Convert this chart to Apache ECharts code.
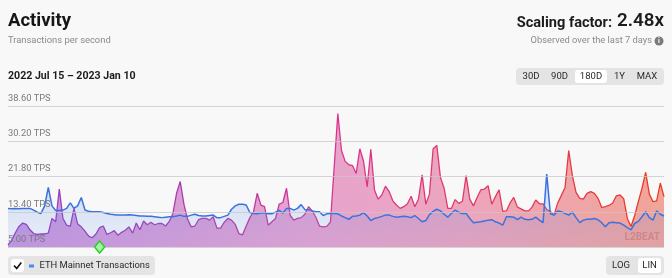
<!DOCTYPE html>
<html><head><meta charset="utf-8">
<script src="https://cdn.jsdelivr.net/npm/echarts@6/dist/echarts.min.js"></script>
<style>html,body{margin:0;padding:0;background:#f8f8f8;}#c{width:672px;height:278px;}</style>
</head><body><div id="c"></div>
<script>
const startDate = '2022-07-15';
const dayCount = 180;
const yTicks = [5.00, 13.40, 21.80, 30.20, 38.60];
const projectTps = [5.5,6.6,8.4,9.9,10.7,10.4,9.1,8.2,8.0,8.1,
 8.1,8.3,11.8,11.0,18.8,11.8,10.2,9.9,14.2,10.5,
 9.8,8.8,7.6,7.2,8.1,9.6,10.0,8.0,8.4,8.9,
 7.8,8.5,9.0,9.8,8.3,10.7,9.1,11.2,10.3,10.9,
 10.3,10.6,10.6,10.0,11.1,13.0,17.8,20.6,15.2,11.6,
 9.8,10.0,11.5,11.8,11.8,11.4,12.2,9.5,9.5,10.9,
 11.8,11.4,10.4,8.2,7.9,10.0,12.0,13.4,17.8,15.0,
 14.6,10.2,11.0,11.8,15.2,15.6,19.0,12.5,11.4,11.8,
 12.0,12.8,14.6,13.6,12.1,10.0,9.8,9.9,11.0,24.0,
 36.8,28.0,25.4,24.6,24.4,22.5,28.4,25.5,19.3,28.3,
 18.6,16.4,17.4,19.5,18.2,16.0,15.0,14.2,14.6,15.3,
 17.1,14.6,16.4,22.2,15.2,17.6,28.4,29.2,21.6,19.0,
 14.2,14.2,16.3,15.4,15.9,22.0,16.4,14.8,16.8,18.6,
 18.8,19.6,15.2,17.0,18.6,13.5,13.6,15.5,16.8,14.5,
 14.1,13.6,13.6,14.5,16.2,15.3,15.3,13.9,13.5,12.6,
 15.5,17.3,19.2,28.0,22.0,18.0,16.6,16.4,17.8,18.2,
 17.8,16.6,14.4,14.6,14.9,15.5,17.2,17.4,16.5,11.8,
 9.9,12.5,15.8,19.0,22.8,17.6,15.8,16.0,20.2,17.0];
const ethTps = [14.2,14.1,14.2,14.1,14.2,14.2,14.2,13.8,13.3,13.0,
 14.8,19.2,14.8,13.7,13.7,13.8,14.2,15.5,14.2,14.8,
 16.8,13.8,13.5,13.4,13.4,13.4,13.2,13.0,12.8,12.7,
 12.6,12.6,12.6,12.7,12.6,12.5,12.4,12.4,12.3,12.3,
 12.2,12.1,12.0,12.1,12.2,12.2,12.4,12.6,12.3,12.3,
 12.6,12.8,12.5,12.4,12.4,12.5,12.6,12.0,12.0,12.3,
 12.6,14.0,14.8,15.2,15.2,15.0,13.2,13.0,12.9,13.1,
 13.1,12.9,12.9,13.3,13.7,13.1,14.2,14.2,13.8,14.2,
 15.1,13.9,13.9,13.6,13.4,13.4,12.5,12.9,13.0,13.0,
 12.9,12.4,12.0,11.6,12.3,12.4,12.6,13.2,12.4,11.3,
 11.8,12.0,12.3,12.6,12.6,12.3,12.1,12.2,12.3,12.2,
 12.0,12.5,11.8,11.0,11.3,12.7,13.5,14.0,13.6,12.8,
 12.1,13.0,13.8,13.3,13.0,13.0,11.8,10.8,10.9,11.0,
 11.2,11.4,11.5,11.0,10.7,10.2,12.2,12.2,12.1,11.5,
 12.1,11.6,11.5,11.6,12.1,11.4,10.8,22.4,12.9,12.6,
 13.6,13.4,13.0,12.6,13.3,12.0,10.8,11.4,11.6,11.6,
 11.8,11.5,10.8,9.8,10.8,10.9,10.8,10.7,10.2,9.6,
 9.1,10.6,11.1,12.2,13.4,12.0,11.4,13.6,12.8,12.4];
const rangeButtons = ['30D','90D','180D','1Y','MAX'];
const selectedRange = '180D';
const scaleButtons = ['LOG','LIN'];
const markerDate = '2022-08-09';

const categories = [];
{
  const d0 = new Date(startDate + 'T00:00:00Z');
  for (let i = 0; i < dayCount; i++) {
    const d = new Date(d0.getTime() + i * 86400000);
    categories.push(d.toISOString().slice(0, 10));
  }
}

const FONT = 'Roboto, "Noto Sans", sans-serif';
const chart = echarts.init(document.getElementById('c'), null, {renderer: 'canvas'});
const G = echarts.graphic;

function txt(x, y, text, size, color, weight, align) {
  return {type: 'text', x: x, y: y, silent: true, z: 100,
    style: {text: text, fontSize: size, fill: color, fontWeight: weight || 'normal',
      fontFamily: FONT, align: align || 'left', verticalAlign: 'middle'}};
}
const rangeX = [531, 559.5, 591, 619.5, 647];
const graphics = [
  txt(8, 21, 'Activity', 18.5, '#161616', 'bold'),
  txt(8, 41, 'Transactions per second', 9.4, '#8a8a8a'),
  txt(8, 76, '2022 Jul 15 \u2013 2023 Jan 10', 10.6, '#1c1c1c', 'bold'),
  txt(612, 23, 'Scaling factor:', 14.6, '#1c1c1c', 'bold', 'right'),
  txt(664, 21, '2.48x', 18.8, '#1c1c1c', 600, 'right'),
  txt(652, 41, 'Observed over the last 7 days', 9.3, '#8a8a8a', 'normal', 'right'),
  {type: 'circle', shape: {cx: 659, cy: 41, r: 4.5}, style: {fill: '#7a7a7a'}, z: 100, silent: true},
  txt(659, 41.5, 'i', 7, '#fff', 'bold', 'center'),
  {type: 'rect', shape: {x: 516, y: 68, width: 148, height: 17, r: 4}, style: {fill: '#e4e4e4'}, z: 99, silent: true},
  {type: 'rect', shape: {x: 575, y: 70, width: 32, height: 13, r: 3}, style: {fill: '#ffffff'}, z: 99, silent: true},
  {type: 'rect', shape: {x: 8, y: 256, width: 147, height: 19, r: 4}, style: {fill: '#e4e4e4'}, z: 99, silent: true},
  {type: 'rect', shape: {x: 11, y: 259, width: 13, height: 13, r: 3}, style: {fill: '#ffffff'}, z: 100, silent: true},
  {type: 'polyline', shape: {points: [[14, 265.5], [16.7, 268.5], [21.3, 262.5]]}, style: {stroke: '#111', lineWidth: 1.6, fill: null}, z: 101, silent: true},
  {type: 'rect', shape: {x: 29, y: 264.5, width: 5, height: 3}, style: {fill: '#4a8ae8'}, z: 100, silent: true},
  txt(39.5, 266, 'ETH Mainnet Transactions', 9.4, '#2a2a2a'),
  {type: 'rect', shape: {x: 606, y: 256, width: 58, height: 19, r: 4}, style: {fill: '#e4e4e4'}, z: 99, silent: true},
  {type: 'rect', shape: {x: 638, y: 258, width: 23, height: 15, r: 3}, style: {fill: '#ffffff'}, z: 99, silent: true},
  txt(621, 266, scaleButtons[0], 9.5, '#2a2a2a', 'normal', 'center'),
  txt(649.5, 266, scaleButtons[1], 9.5, '#2a2a2a', 'normal', 'center'),
  txt(660, 237, 'L2BEAT', 10, 'rgba(160,70,70,0.28)', 'bold', 'right')
];
rangeButtons.forEach((b, i) => graphics.push(txt(rangeX[i], 76.5, b, 9.5, '#2a2a2a', 'normal', 'center')));

chart.setOption({
  backgroundColor: '#f8f8f8',
  animation: false,
  grid: {left: 8, right: 8, top: 106, bottom: 31, containLabel: false},
  xAxis: {type: 'category', data: categories, boundaryGap: false, show: false},
  yAxis: {
    type: 'value', min: yTicks[0], max: yTicks[yTicks.length - 1], interval: 8.4,
    z: 5,
    axisLine: {show: false}, axisTick: {show: false},
    splitLine: {lineStyle: {color: 'rgba(200,200,200,0.75)', width: 1}},
    axisLabel: {inside: true, margin: 0, verticalAlign: 'bottom', align: 'left',
      padding: [0, 0, 3, 0], fontSize: 9.3, color: '#7a7a7a', fontFamily: FONT,
      formatter: v => v.toFixed(2) + ' TPS'}
  },
  series: [
    {
      name: 'Project', type: 'line', data: projectTps, symbol: 'none', z: 2,
      lineStyle: {width: 1.3, color: new G.LinearGradient(0, 0, 1, 0, [
        {offset: 0, color: '#8c3fc6'}, {offset: 0.3, color: '#b13aa8'},
        {offset: 0.5, color: '#d8368d'}, {offset: 0.75, color: '#e23a5c'}, {offset: 1, color: '#ea3a1e'}])},
      areaStyle: {opacity: 1, color: new G.LinearGradient(0, 0, 1, 0, [
        {offset: 0, color: '#c896de'}, {offset: 0.45, color: '#e7a3cf'},
        {offset: 0.7, color: '#eda5bd'}, {offset: 1, color: '#f1a497'}])},
      markPoint: {
        symbol: 'diamond', symbolSize: [10, 12],
        itemStyle: {color: '#a2f59e', borderColor: '#2ccb2c', borderWidth: 1.5},
        label: {show: false},
        data: [{coord: [markerDate, yTicks[0]]}]
      }
    },
    {
      name: 'ETH Mainnet Transactions', type: 'line', data: ethTps, symbol: 'none', z: 3,
      lineStyle: {width: 1.5, color: '#3a72e0'},
      areaStyle: {color: new G.LinearGradient(0, 0, 0, 1, [
        {offset: 0, color: 'rgba(90,140,235,0.38)'}, {offset: 1, color: 'rgba(90,140,235,0.14)'}])}
    }
  ],
  graphic: graphics
});
</script></body></html>
